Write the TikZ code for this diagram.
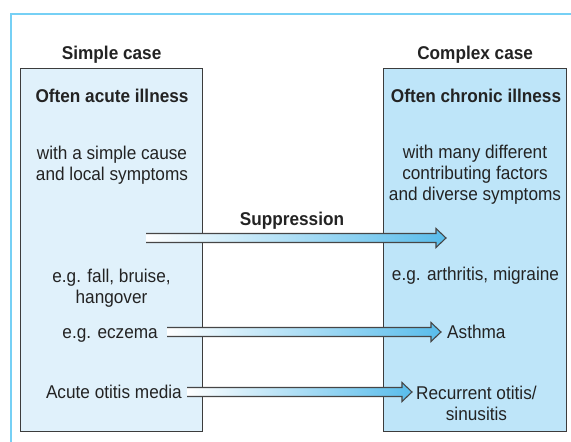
\documentclass[tikz,border=0pt]{standalone}
\usepackage{fontspec}
\setmainfont{Liberation Sans}[FakeStretch=0.93]
\usetikzlibrary{positioning, calc}
\definecolor{framecyan}{RGB}{118,208,245}
\definecolor{boxgray}{RGB}{60,60,60}
\definecolor{arrowgray}{RGB}{70,70,70}
\definecolor{inkgray}{RGB}{35,35,35}
\definecolor{simplefill}{RGB}{224,241,251}
\definecolor{complexfill}{RGB}{190,229,249}
\definecolor{arrowblue}{RGB}{88,188,235}

% hollow double arrow with a white-to-blue fill
\newcommand{\hollowarrow}[2]{%
  \coordinate (ha-tail) at (#1);
  \coordinate (ha-tip) at (#2 |- #1);
  \shade[left color=white, right color=arrowblue]
    ($(ha-tail)+(0,-4.5)$) -- ($(ha-tip)+(-10,-4.5)$) -- ($(ha-tip)+(-10,-9.5)$) -- (ha-tip)
    -- ($(ha-tip)+(-10,9.5)$) -- ($(ha-tip)+(-10,4.5)$) -- ($(ha-tail)+(0,4.5)$) -- cycle;
  \draw[arrowline]
    ($(ha-tail)+(0,-4.5)$) -- ($(ha-tip)+(-10,-4.5)$) -- ($(ha-tip)+(-10,-9.5)$) -- (ha-tip)
    -- ($(ha-tip)+(-10,9.5)$) -- ($(ha-tip)+(-10,4.5)$) -- ($(ha-tail)+(0,4.5)$);
}

\begin{document}
\begin{tikzpicture}[
    x=1pt, y=-1pt,
    every node/.style={text=inkgray, font=\fontsize{18.5}{21}\selectfont},
    casebox/.style={rectangle, draw=boxgray, line width=1.3pt, anchor=north west,
                    minimum width=182pt, minimum height=363pt},
    headtxt/.style={font=\fontsize{18.5}{21}\selectfont\bfseries, inner sep=0pt},
    bodytxt/.style={align=center, inner sep=0pt, anchor=base},
    sidetxt/.style={inner ysep=0pt, text height=13pt, text depth=0pt},
    frameline/.style={draw=framecyan, line width=2.5pt},
    arrowline/.style={draw=arrowgray, line width=1.1pt, line join=miter}
]
    \useasboundingbox (0,0) rectangle (571,442);
    \draw[frameline] (11,442) |- (571,14);

    % Boxes
    \node[casebox, fill=simplefill] (simplebox) at (20,68) {};
    \node[casebox, fill=complexfill, minimum width=183pt] (complexbox) at (383,68) {};

    % Titles
    \node[headtxt, above=4pt of simplebox] (simplehead) {Simple case};
    \node[headtxt, above=4pt of complexbox] (complexhead) {Complex case};

    % Box texts (base = last line)
    \node[headtxt, bodytxt] (acute) at (112,102) {Often acute illness};
    \node[headtxt, bodytxt] (chronic) at (476,102) {Often chronic illness};
    \node[bodytxt] (simplecause) at (112,180) {with a simple cause\\and local symptoms};
    \node[bodytxt] (manyfactors) at (475,200) {with many different\\contributing factors\\and diverse symptoms};
    \node[headtxt, bodytxt] (suppress) at (292,225) {Suppression};
    \node[bodytxt] (fallbruise) at (111.5,303) {e.g. fall, bruise,\\hangover};
    \node[bodytxt] (arthritis) at (475.5,280) {e.g. arthritis, migraine};

    % Texts at the arrows
    \node[sidetxt, inner xsep=9pt, anchor=base east] (eczema) at (167,338.5) {e.g. eczema};
    \node[sidetxt, inner xsep=6pt, anchor=base west] (asthma) at (441,338.5) {Asthma};
    \node[sidetxt, inner xsep=5pt, anchor=base east] (otitis) at (187,398.5) {Acute otitis media};
    \node[bodytxt, anchor=base west] (recurrent) at (416,420) {Recurrent otitis/\\sinusitis};

    \coordinate (supstart) at (146,238);
    \coordinate (supend) at (446,238);
    \coordinate (recurrentin) at ($(recurrent.base west)+(-4,0)$);

    % Arrows
    \hollowarrow{supstart}{supend}
    \hollowarrow{eczema.east}{asthma.west}
    \hollowarrow{otitis.east}{recurrentin}
\end{tikzpicture}
\end{document}
